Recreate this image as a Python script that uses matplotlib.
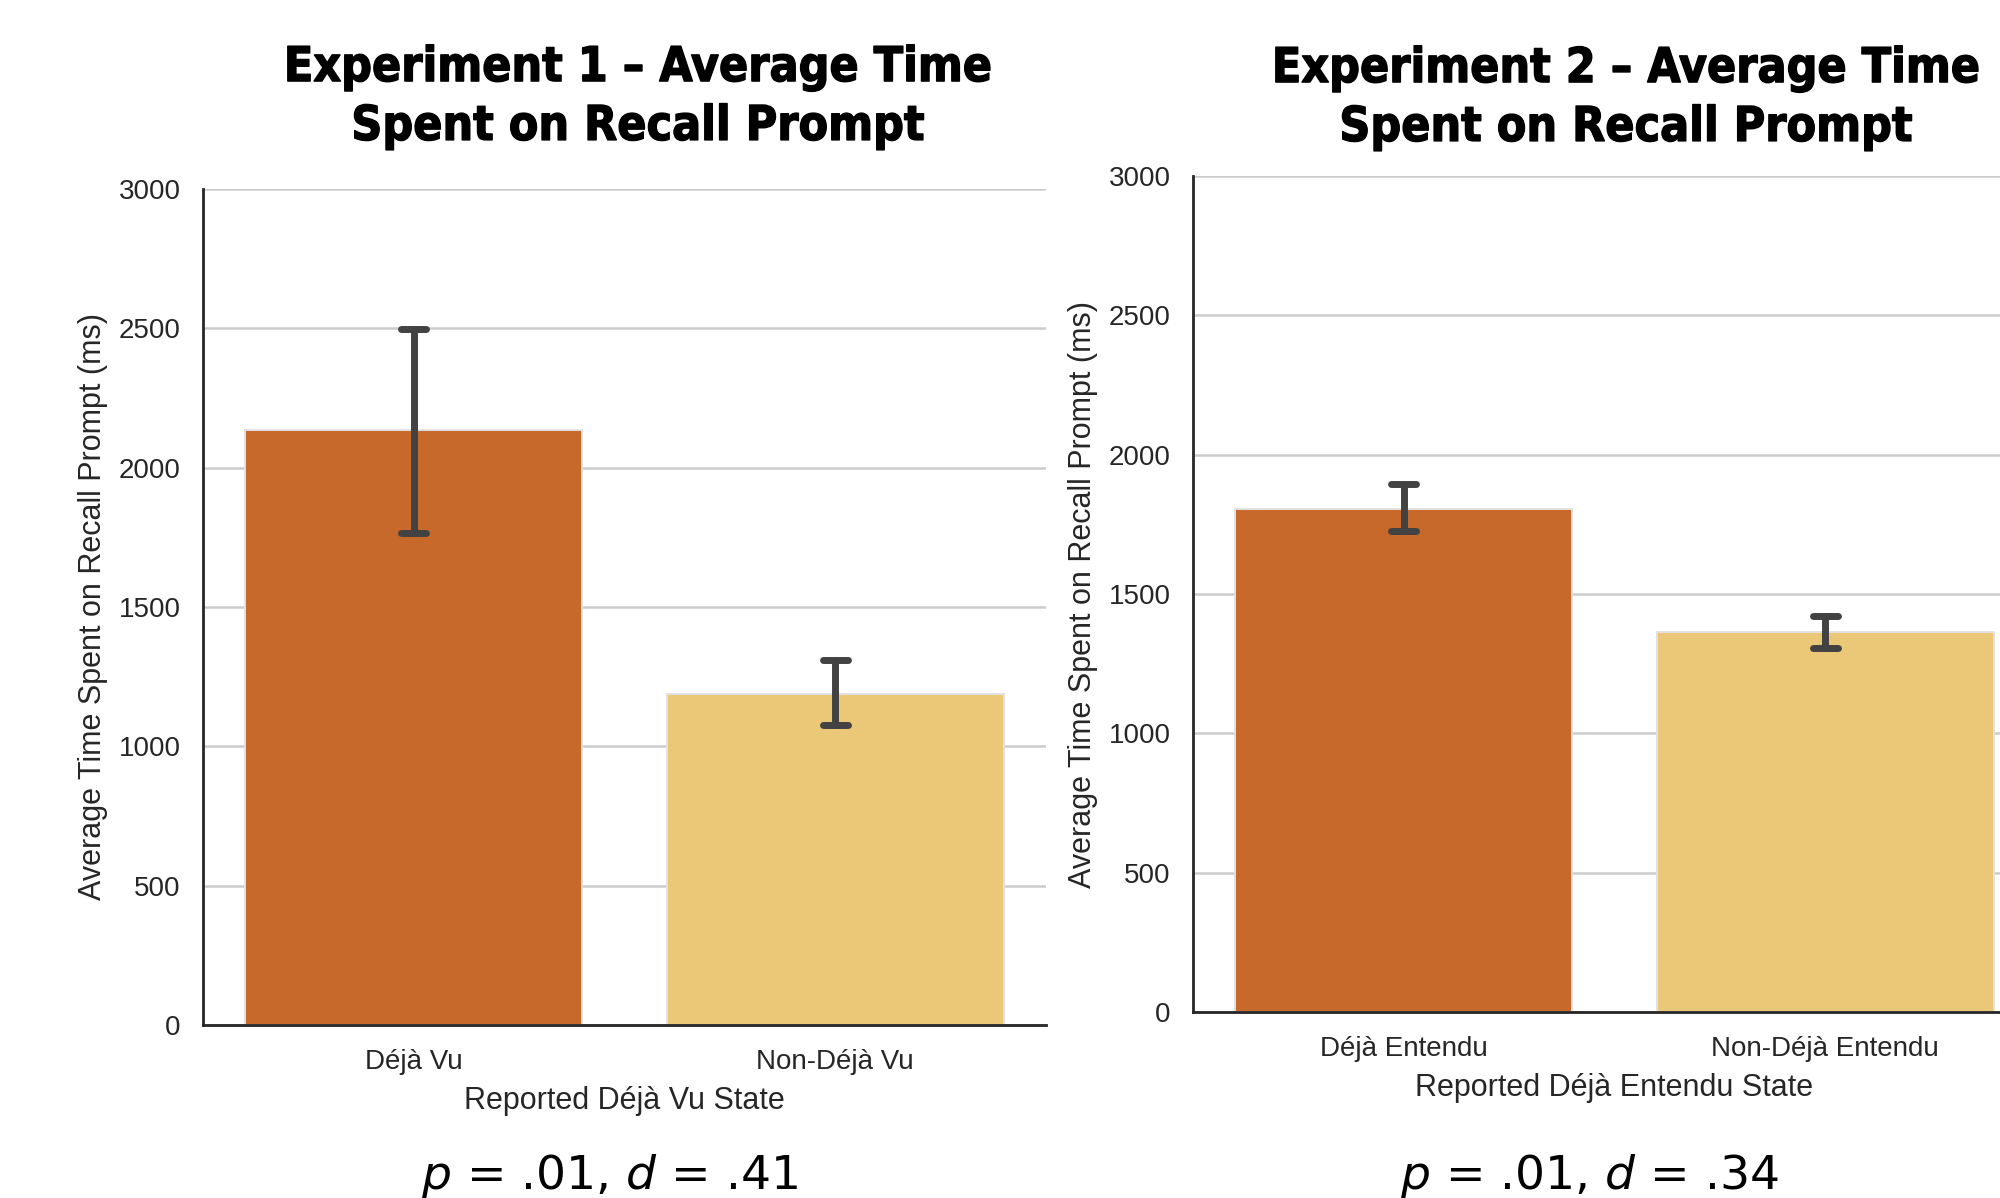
import numpy as np
import matplotlib
matplotlib.use("Agg")
import matplotlib.pyplot as plt
import matplotlib.patheffects as pe

# ---- data ----
exp1_labels = ["Déjà Vu", "Non-Déjà Vu"]
exp1_means = [2135, 1188]
exp1_ci_low = [1765, 1076]
exp1_ci_high = [2497, 1310]

exp2_labels = ["Déjà Entendu", "Non-Déjà Entendu"]
exp2_means = [1805, 1364]
exp2_ci_low = [1726, 1306]
exp2_ci_high = [1894, 1421]

bar_colors = ["#C7692A", "#EAC878"]
yticks = [0, 500, 1000, 1500, 2000, 2500, 3000]

plt.rcParams["font.family"] = ["Liberation Sans", "DejaVu Sans"]
plt.rcParams["mathtext.fontset"] = "dejavusans"

fig = plt.figure(figsize=(20, 11.98), dpi=100)
W, H = 2000, 1198


def px_axes(left, top, right, bottom):
    return fig.add_axes([left / W, 1 - bottom / H, (right - left) / W, (bottom - top) / H])


def draw_panel(ax, labels, means, lo, hi, xlabel):
    x = np.arange(len(labels))
    ax.bar(x, means, width=0.8, color=bar_colors, edgecolor="#e2e2e2",
           linewidth=1.4, zorder=2)
    ax.vlines(x, lo, hi, color="#424242", linewidth=5, capstyle="round", zorder=3)
    cap = 0.03
    ax.hlines(lo, x - cap, x + cap, color="#424242", linewidth=5,
              capstyle="round", zorder=3)
    ax.hlines(hi, x - cap, x + cap, color="#424242", linewidth=5,
              capstyle="round", zorder=3)

    ax.set_xlim(-0.5, 1.5)
    ax.set_ylim(0, 3000)
    ax.set_yticks(yticks)
    ax.set_xticks(x)
    ax.set_xticklabels(labels)
    ax.yaxis.grid(True, color="#cccccc", linewidth=1.8)
    ax.xaxis.grid(False)
    ax.set_axisbelow(True)
    for s in ["top", "right"]:
        ax.spines[s].set_visible(False)
    for s in ["left", "bottom"]:
        ax.spines[s].set_color("#262626")
        ax.spines[s].set_linewidth(2.0)
    ax.tick_params(axis="y", length=0, pad=16, labelsize=20, labelcolor="#262626")
    ax.tick_params(axis="x", length=0, pad=17, labelsize=20, labelcolor="#262626")
    ax.set_ylabel("Average Time Spent on Recall Prompt (ms)", fontsize=22,
                  color="#262626", labelpad=8)
    ax.set_xlabel(xlabel, fontsize=22, color="#262626", labelpad=8)


ax1 = px_axes(203, 189, 1046, 1025)
draw_panel(ax1, exp1_labels, exp1_means, exp1_ci_low, exp1_ci_high,
           "Reported Déjà Vu State")

ax2 = px_axes(1193, 176, 2036, 1012)
draw_panel(ax2, exp2_labels, exp2_means, exp2_ci_low, exp2_ci_high,
           "Reported Déjà Entendu State")

title_kw = dict(ha="center", va="center", fontsize=34.5, fontweight="bold",
                family="DejaVu Sans", fontstretch="condensed", linespacing=1.32,
                path_effects=[pe.withStroke(linewidth=1.0, foreground="black")])
fig.text(638 / W, 1 - 97 / H, "Experiment 1 – Average Time\nSpent on Recall Prompt", **title_kw)
fig.text(1626 / W, 1 - 98 / H, "Experiment 2 – Average Time\nSpent on Recall Prompt", **title_kw)

stat_kw = dict(ha="center", va="baseline", fontsize=34, family="DejaVu Sans")
fig.text(610 / W, 1 - 1189 / H, r"$p$ = .01, $d$ = .41", **stat_kw)
fig.text(1590 / W, 1 - 1189 / H, r"$p$ = .01, $d$ = .34", **stat_kw)

fig.savefig("out.png", dpi=100)
